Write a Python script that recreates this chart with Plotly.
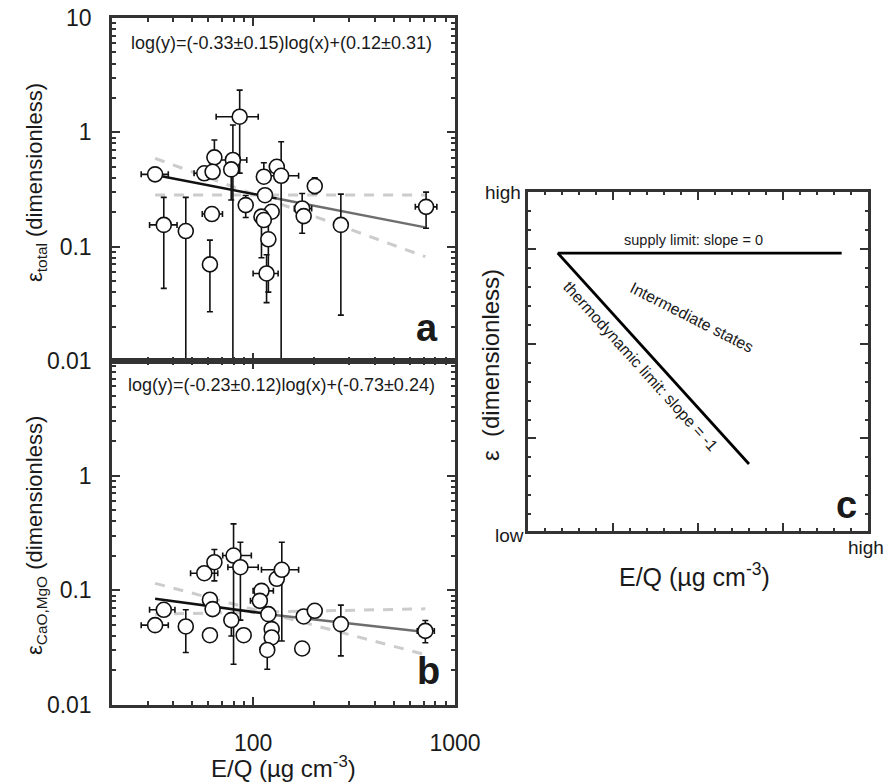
import math
import plotly.graph_objects as go

# ---------------- Panel a data (epsilon_total) ----------------
a_x = [32.7, 36.1, 46.4, 62.5, 61.1, 57.3, 64.3, 63.0, 79.4, 77.9, 85.8, 131, 137.7,
       113, 114.5, 91.9, 123.6, 110, 113, 119, 116.6, 175, 178, 202, 272, 719]
a_y = [0.429, 0.155, 0.137, 0.193, 0.070, 0.438, 0.604, 0.452, 0.573, 0.474, 1.37, 0.50, 0.417,
       0.409, 0.282, 0.231, 0.202, 0.183, 0.171, 0.116, 0.0583, 0.216, 0.185, 0.339, 0.155, 0.223]
a_y_hi = [0.429, 0.27, 0.27, 0.193, 0.114, 0.438, 0.857, 0.452, 1.16, 0.474, 2.34, 0.50, 0.828,
          0.542, 0.282, 0.28, 0.202, 0.183, 0.171, 0.17, 0.085, 0.292, 0.185, 0.40, 0.288, 0.30]
a_y_lo = [0.429, 0.0432, 0.001, 0.193, 0.027, 0.438, 0.43, 0.452, 0.001, 0.256, 0.44, 0.50, 0.001,
          0.409, 0.282, 0.18, 0.202, 0.08, 0.171, 0.04, 0.0324, 0.131, 0.185, 0.29, 0.0252, 0.145]
a_x_lo = [27.9, 30.7, 46.4, 56.0, 61.1, 51.0, 64.3, 63.0, 68.0, 77.9, 65.6, 131, 121,
          113, 114.5, 87.0, 123.6, 110, 113, 119, 100, 160, 178, 202, 272, 636]
a_x_hi = [38.0, 42.0, 46.4, 70.5, 61.1, 64.0, 64.3, 63.0, 93.0, 77.9, 106, 131, 168,
          113, 114.5, 97.0, 123.6, 110, 113, 119, 133, 195, 178, 202, 272, 813]

a_fit_x = [32.7, 131]
a_fit_y = [0.423, 0.264]
a_fit2_x = [131, 713]
a_fit2_y = [0.264, 0.1475]
a_steep_x = [32.7, 713]
a_steep_y = [0.592, 0.0817]
a_flat_x = [32.7, 713]
a_flat_y = [0.283, 0.283]

# ---------------- Panel b data (epsilon_CaO,MgO) ----------------
b_x = [32.7, 36.1, 46.4, 61.1, 61.1, 63.0, 57.3, 64.3, 80.0, 86.5, 78.0, 89.8, 110, 108,
       119, 123.6, 123.6, 117.5, 131, 138.7, 178, 202, 175, 272, 713]
b_y = [0.0497, 0.0677, 0.0484, 0.0406, 0.0828, 0.0686, 0.141, 0.176, 0.201, 0.159, 0.055, 0.0406,
       0.099, 0.081, 0.062, 0.0459, 0.0388, 0.0302, 0.126, 0.151, 0.0592, 0.0663, 0.0311, 0.0507, 0.0443]
b_y_hi = [0.0497, 0.0677, 0.0677, 0.0437, 0.0828, 0.0686, 0.141, 0.227, 0.38, 0.263, 0.055, 0.0406,
          0.099, 0.081, 0.062, 0.0459, 0.0388, 0.0302, 0.126, 0.263, 0.0592, 0.0663, 0.034, 0.0743, 0.0546]
b_y_lo = [0.0497, 0.0677, 0.0287, 0.0369, 0.0828, 0.0686, 0.141, 0.121, 0.0227, 0.055, 0.040, 0.0406,
          0.099, 0.081, 0.062, 0.0459, 0.0388, 0.0205, 0.126, 0.0362, 0.0592, 0.0663, 0.0285, 0.0268, 0.0349]
b_x_lo = [27.9, 30.7, 46.4, 61.1, 57.0, 63.0, 49.0, 60.0, 70.7, 75.0, 78.0, 89.8, 100, 97,
          119, 123.6, 123.6, 117.5, 131, 110, 178, 202, 175, 272, 650]
b_x_hi = [38.0, 41.0, 46.4, 61.1, 66.0, 63.0, 66.8, 69.0, 98.0, 106, 78.0, 89.8, 126, 108,
          119, 123.6, 123.6, 117.5, 131, 168, 178, 202, 175, 272, 790]

b_fit_x = [32.7, 131]
b_fit_y = [0.0846, 0.0607]
b_fit2_x = [131, 713]
b_fit2_y = [0.0607, 0.0434]
b_steep_x = [32.7, 713]
b_steep_y = [0.115, 0.0275]
b_flat_x = [32.7, 713]
b_flat_y = [0.062, 0.069]

# ---------------- Panel c schematic ----------------
c_supply_x = [0.35, 3.69]
c_supply_y = [2.96, 2.96]
c_thermo_x = [0.35, 2.60]
c_thermo_y = [2.96, 0.73]

# axis tick labels
y_tickvals = [0.01, 0.1, 1, 10]
ya_ticktext = ["0.01", "0.1", "1", "10"]
yb_ticktext = ["0.01", "0.1", "1", ""]
x_tickvals = [100, 1000]
x_ticktext = ["100", "1000"]

W, H = 890, 784
FONT = "Liberation Sans, Arial, Helvetica, sans-serif"
FRAME = "#333333"
INK = "#1a1a1a"


def PX(v):
    return v / W


def PY(v):
    return 1 - v / H


fig = go.Figure()


def add_panel(xa, ya, steep_x, steep_y, flat_x, flat_y, f1x, f1y, f2x, f2y,
              x, y, yhi, ylo, xlo, xhi):
    for xs, ys in ((steep_x, steep_y), (flat_x, flat_y)):
        fig.add_trace(go.Scatter(x=xs, y=ys, mode="lines", xaxis=xa, yaxis=ya,
                                 line=dict(color="#cccccc", width=3, dash="10px,9px"),
                                 showlegend=False, hoverinfo="skip"))
    fig.add_trace(go.Scatter(x=f2x, y=f2y, mode="lines", xaxis=xa, yaxis=ya,
                             line=dict(color="#6e6e6e", width=2.5),
                             showlegend=False, hoverinfo="skip"))
    fig.add_trace(go.Scatter(x=f1x, y=f1y, mode="lines", xaxis=xa, yaxis=ya,
                             line=dict(color="#111111", width=2.5),
                             showlegend=False, hoverinfo="skip"))
    fig.add_trace(go.Scatter(
        x=x, y=y, mode="markers", xaxis=xa, yaxis=ya, showlegend=False,
        marker=dict(symbol="circle", size=15, color="white",
                    line=dict(color="#111111", width=1.6)),
        error_y=dict(type="data", symmetric=False,
                     array=[h - v for h, v in zip(yhi, y)],
                     arrayminus=[v - l for v, l in zip(y, ylo)],
                     color="#111111", thickness=1.6, width=3),
        error_x=dict(type="data", symmetric=False,
                     array=[h - v for h, v in zip(xhi, x)],
                     arrayminus=[v - l for v, l in zip(x, xlo)],
                     color="#111111", thickness=1.6, width=3),
    ))


add_panel("x", "y", a_steep_x, a_steep_y, a_flat_x, a_flat_y, a_fit_x, a_fit_y,
          a_fit2_x, a_fit2_y, a_x, a_y, a_y_hi, a_y_lo, a_x_lo, a_x_hi)
add_panel("x2", "y2", b_steep_x, b_steep_y, b_flat_x, b_flat_y, b_fit_x, b_fit_y,
          b_fit2_x, b_fit2_y, b_x, b_y, b_y_hi, b_y_lo, b_x_lo, b_x_hi)

fig.add_trace(go.Scatter(x=c_supply_x, y=c_supply_y, mode="lines", xaxis="x3", yaxis="y3",
                         line=dict(color="black", width=2.8), showlegend=False, hoverinfo="skip"))
fig.add_trace(go.Scatter(x=c_thermo_x, y=c_thermo_y, mode="lines", xaxis="x3", yaxis="y3",
                         line=dict(color="black", width=2.8), showlegend=False, hoverinfo="skip"))

minor_x = [d * 10 ** k for k in (1, 2) for d in range(2, 10)]
minor_y = [d * 10 ** k for k in (-2, -1, 0) for d in range(2, 10)]

TICKFONT = dict(family=FONT, size=23, color=INK)
common = dict(showline=True, linewidth=2.5, linecolor=FRAME, mirror="allticks",
              ticks="inside", ticklen=8, tickwidth=1.6, tickcolor=FRAME,
              showgrid=False, zeroline=False, automargin=False, tickfont=TICKFONT)

xdom = [112 / W, 455 / W]
fig.update_layout(
    width=W, height=H, margin=dict(l=0, r=0, t=0, b=0),
    paper_bgcolor="white", plot_bgcolor="white",
    xaxis=dict(type="log", range=[math.log10(20), 3], domain=xdom, anchor="y",
               tickvals=x_tickvals, showticklabels=False,
               minor=dict(tickvals=minor_x, ticks="inside", ticklen=4, tickwidth=1.6,
                          tickcolor=FRAME, showgrid=False), **common),
    yaxis=dict(type="log", range=[-2, 1], domain=[PY(361), PY(18)], anchor="x",
               tickvals=y_tickvals, ticktext=ya_ticktext, ticklabelstandoff=13,
               minor=dict(tickvals=minor_y, ticks="inside", ticklen=4, tickwidth=1.6,
                          tickcolor=FRAME, showgrid=False), **common),
    xaxis2=dict(type="log", range=[math.log10(20), 3], domain=xdom, anchor="y2",
                tickvals=x_tickvals, ticktext=x_ticktext, ticklabelstandoff=16,
                minor=dict(tickvals=minor_x, ticks="inside", ticklen=4, tickwidth=1.6,
                           tickcolor=FRAME, showgrid=False), **common),
    yaxis2=dict(type="log", range=[-2, 1], domain=[PY(705), PY(361)], anchor="x2",
                tickvals=y_tickvals, ticktext=yb_ticktext, ticklabelstandoff=13,
                minor=dict(tickvals=minor_y, ticks="inside", ticklen=4, tickwidth=1.6,
                           tickcolor=FRAME, showgrid=False), **common),
    xaxis3=dict(range=[0, 4], domain=[528 / W, 868 / W], anchor="y3",
                tick0=0, dtick=1, showticklabels=False,
                minor=dict(dtick=0.2, ticks="inside", ticklen=3.5, tickwidth=1.6,
                           tickcolor=FRAME, showgrid=False), **common),
    yaxis3=dict(range=[0.022, 3.605], domain=[PY(531), PY(192)], anchor="x3",
                tick0=0, dtick=1, showticklabels=False,
                minor=dict(dtick=0.2, ticks="inside", ticklen=3.5, tickwidth=1.6,
                           tickcolor=FRAME, showgrid=False), **common),
)

ann = []


def text(x, y, s, size, angle=0, bold=False, xanchor="center", yanchor="middle"):
    ann.append(dict(x=PX(x), y=PY(y), xref="paper", yref="paper", text=("<b>%s</b>" % s) if bold else s,
                    showarrow=False, textangle=angle, xanchor=xanchor, yanchor=yanchor,
                    font=dict(family=FONT, size=size, color=INK)))


text(281, 43, "log(y)=(-0.33±0.15)log(x)+(0.12±0.31)", 18)
text(281, 385, "log(y)=(-0.23±0.12)log(x)+(-0.73±0.24)", 18)
text(427, 328, "a", 38, bold=True)
text(428, 671, "b", 38, bold=True)
text(846, 505, "c", 38, bold=True)
text(36, 183, "ε<sub>total</sub> (dimensionless)", 22, angle=-90)
text(36, 536, "ε<sub>CaO,MgO</sub> (dimensionless)", 22, angle=-90)
text(283, 767, "E/Q (µg cm<sup>-3</sup>)", 24)
text(694, 575, "E/Q (µg cm<sup>-3</sup>)", 25)
text(490, 365, "ε\u00a0\u00a0(dimensionless)", 24, angle=-90)
text(503, 192, "high", 19)
text(509, 535, "low", 19)
text(866, 547, "high", 19)
text(693, 240, "supply limit: slope = 0", 14.5)
text(692, 317, "Intermediate states", 16, angle=27)
text(641, 366, "thermodynamic limit: slope = -1", 16, angle=48)
fig.update_layout(annotations=ann)

fig.write_html("out.html")
